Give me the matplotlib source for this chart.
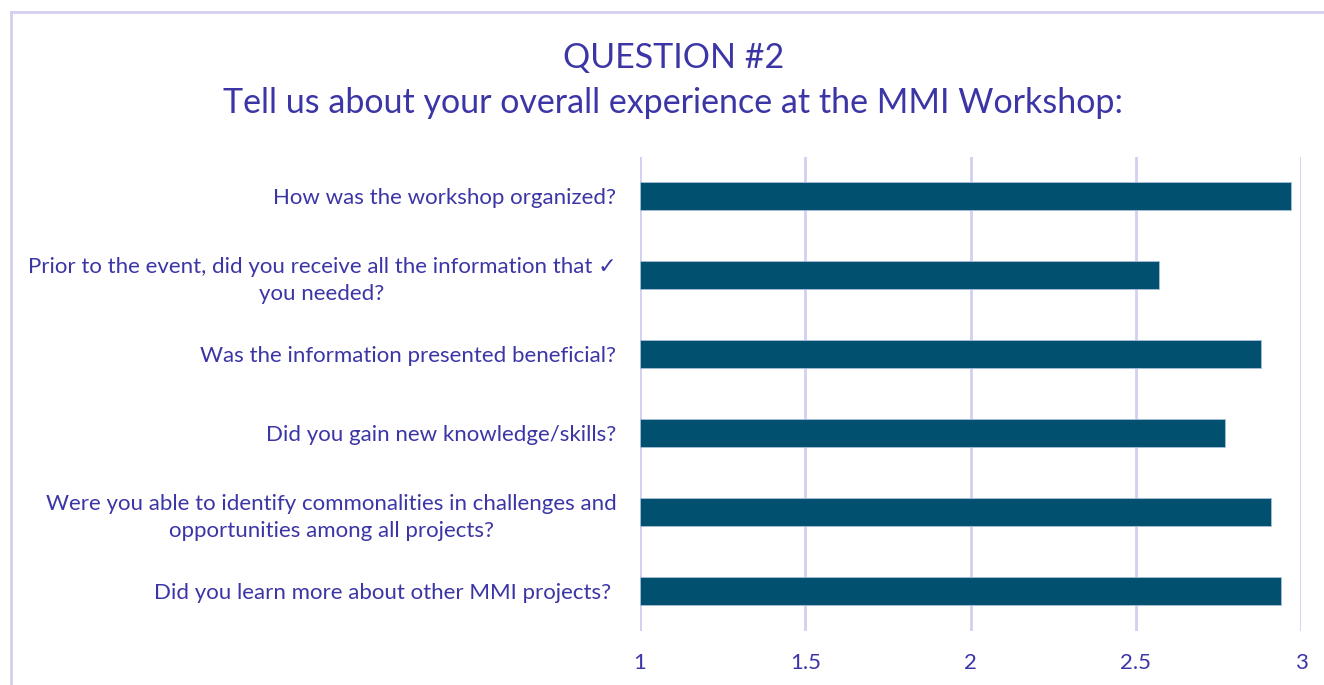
import matplotlib
matplotlib.use("Agg")
import matplotlib.pyplot as plt
from matplotlib.lines import Line2D

plt.rcParams['font.family'] = ['Lato', 'DejaVu Sans']

# survey questions, top to bottom
questions = [
    "How was the workshop organized?",
    "Prior to the event, did you receive all the information that \u2713\nyou needed?",
    "Was the information presented beneficial?",
    "Did you gain new knowledge/skills?",
    "Were you able to identify commonalities in challenges and\nopportunities among all projects?",
    "Did you learn more about other MMI projects? ",
]
scores = [2.97, 2.57, 2.88, 2.77, 2.91, 2.94]
xticks = [1, 1.5, 2, 2.5, 3]
xtick_labels = ["1", "1.5", "2", "2.5", "3"]

text_col = "#3b35a6"
bar_col = "#02506f"
grid_col = "#d3cff0"

fig = plt.figure(figsize=(13.24, 6.85), dpi=100)

# light frame around the chart area
fig.add_artist(Line2D([11/1324, 1], [1 - 12/685, 1 - 12/685], color=grid_col, lw=2))
fig.add_artist(Line2D([11/1324, 11/1324], [0, 1 - 12/685], color=grid_col, lw=2))

fig.text(0.5085, 1 - 58/685, "QUESTION #2", ha="center", va="center",
         fontsize=24.5, color=text_col)
fig.text(0.5085, 1 - 103/685, "Tell us about your overall experience at the MMI Workshop:",
         ha="center", va="center", fontsize=24.5, color=text_col)

ax = fig.add_axes([640/1324, 1 - 630.5/685, 661/1324, 474/685])
ypos = list(range(len(questions)))
ax.barh(ypos, [s - 1 for s in scores], left=1, height=0.35, color=bar_col,
        edgecolor="#a8c0dc", linewidth=0.6, zorder=3)

ax.set_xlim(1, 3)
ax.set_ylim(len(questions) - 0.5, -0.5)
ax.set_xticks(xticks)
ax.set_xticklabels(xtick_labels, fontsize=16, color=text_col)
ax.set_yticks(ypos)
ax.set_yticklabels(questions, fontsize=16, color=text_col)
for lbl in ax.get_yticklabels():
    lbl.set_multialignment("center")
    lbl.set_linespacing(1.45)

ax.tick_params(axis="x", length=0, pad=16)
ax.tick_params(axis="y", length=0, pad=17)
ax.grid(axis="x", color=grid_col, lw=2, zorder=0)
for s in ax.spines.values():
    s.set_visible(False)

fig.savefig("out.png", dpi=100)
